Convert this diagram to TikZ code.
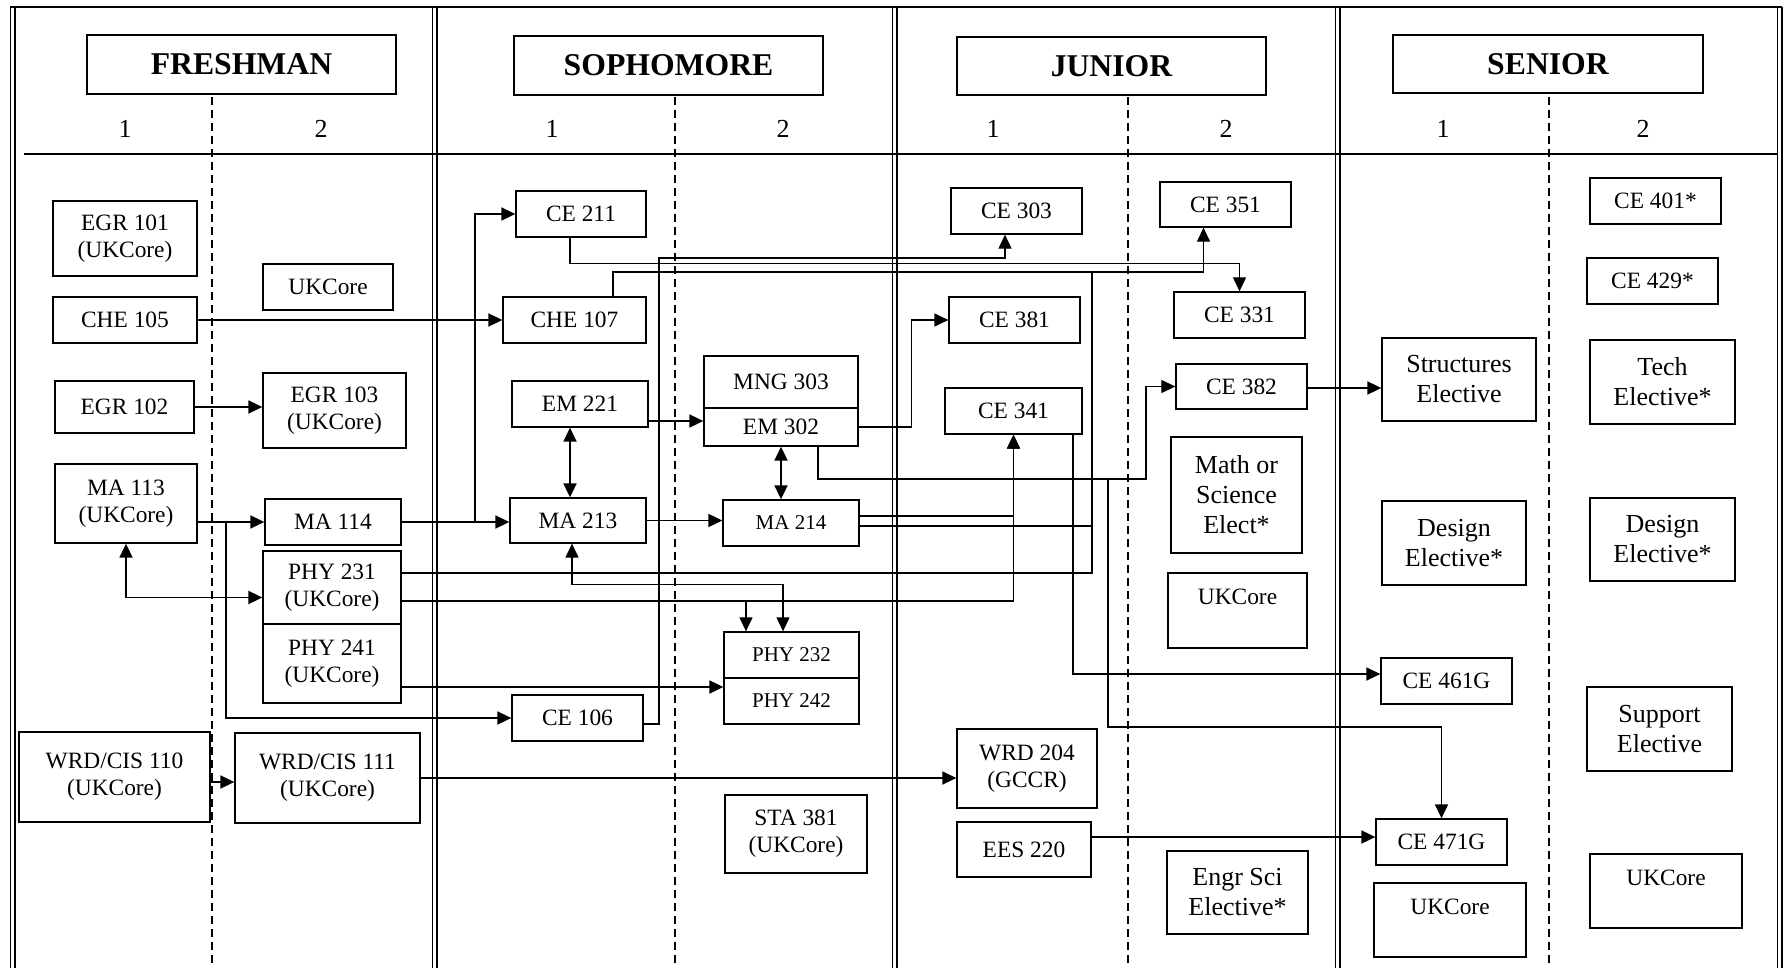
\documentclass[tikz,border=0pt]{standalone}
\usepackage{fontspec}
\setmainfont{Liberation Serif}
\usetikzlibrary{arrows.meta}

\begin{document}
\begin{tikzpicture}[x=1pt,y=-1pt,>={Triangle[length=14pt,width=13pt]},
    course/.style={draw,line width=1.3pt,inner sep=0pt,align=center,font=\fontsize{23.4}{27}\selectfont},
    small/.style={course,font=\fontsize{21}{25}\selectfont},
    elect/.style={course,font=\fontsize{26}{30}\selectfont},
    year/.style={draw,line width=1.3pt,inner sep=0pt,font=\fontsize{31.7}{36}\selectfont\bfseries},
    semlabel/.style={font=\fontsize{26}{30}\selectfont},
    semdash/.style={line width=1.2pt,dash pattern=on 8pt off 5pt},
    divider/.style={double,double distance=3.6pt,line width=1.2pt},
    conn/.style={line width=1.8pt},
    wire/.style={line width=1.2pt}]
  \useasboundingbox (0,0) rectangle (1786,968);
  \foreach \xd in {12.5,434.5,894.5,1337.5,1779.5}
    \draw[divider] (\xd,7) -- (\xd,968);
  \draw[line width=2pt] (10,7) -- (1782,7);
  \draw[line width=1.5pt] (24,154) -- (1777,154);
  \foreach \xd in {212,675,1128,1549}
    \draw[semdash] (\xd,97) -- (\xd,968);
  \node[year,minimum width=309pt,minimum height=59pt] (fresh) at (241.5,64.5) {FRESHMAN};
  \node[year,minimum width=309pt,minimum height=59pt] (soph) at (668.5,65.5) {SOPHOMORE};
  \node[year,minimum width=309pt,minimum height=58pt] (junior) at (1111.5,66) {JUNIOR};
  \node[year,minimum width=310pt,minimum height=58pt] (senior) at (1548,64) {SENIOR};
  \foreach \xs/\ns in {125/1,321/2,552/1,783/2,993/1,1226/2,1443/1,1643/2}
    \node[semlabel] (s\xs) at (\xs,129) {\ns};
  % freshman
  \node[course,minimum width=144pt,minimum height=75pt] (egr101) at (125,238.5) {EGR 101\\(UKCore)};
  \node[course,minimum width=130pt,minimum height=46pt] (ukcoreA) at (328,287) {UKCore};
  \node[course,minimum width=144pt,minimum height=46pt] (che105) at (125,320) {CHE 105};
  \node[course,minimum width=139pt,minimum height=52pt] (egr102) at (124.5,407) {EGR 102};
  \node[course,minimum width=143pt,minimum height=75pt] (egr103) at (334.5,410.5) {EGR 103\\(UKCore)};
  \node[course,minimum width=142pt,minimum height=79pt] (ma113) at (126,503.5) {MA 113\\(UKCore)};
  \node[course,minimum width=136pt,minimum height=46pt] (ma114) at (333,522) {MA 114};
  \node[course,minimum width=138pt,minimum height=73pt] (phy231) at (332,587.5) {PHY 231\\(UKCore)};
  \node[course,minimum width=138pt,minimum height=79pt] (phy241) at (332,663.5) {PHY 241\\(UKCore)};
  \node[course,minimum width=191pt,minimum height=90pt] (wrd110) at (114.5,777) {WRD/CIS 110\\(UKCore)};
  \node[course,minimum width=185pt,minimum height=90pt] (wrd111) at (327.5,778) {WRD/CIS 111\\(UKCore)};
  % sophomore
  \node[course,minimum width=130pt,minimum height=46pt] (ce211) at (581,214) {CE 211};
  \node[course,minimum width=143pt,minimum height=46pt] (che107) at (574.5,320) {CHE 107};
  \node[course,minimum width=136pt,minimum height=46pt] (em221) at (580,404) {EM 221};
  \node[course,minimum width=154pt,minimum height=52pt] (mng303) at (781,382) {MNG 303};
  \node[course,minimum width=154pt,minimum height=38pt] (em302) at (781,427) {EM 302};
  \node[course,minimum width=136pt,minimum height=45pt] (ma213) at (578,520.5) {MA 213};
  \node[small,minimum width=136pt,minimum height=46pt] (ma214) at (791,523) {MA 214};
  \node[small,minimum width=135pt,minimum height=46pt] (phy232) at (791.5,655) {PHY 232};
  \node[small,minimum width=135pt,minimum height=46pt] (phy242) at (791.5,701) {PHY 242};
  \node[course,minimum width=131pt,minimum height=46pt] (ce106) at (577.5,718) {CE 106};
  \node[course,minimum width=142pt,minimum height=78pt] (sta381) at (796,834) {STA 381\\(UKCore)};
  % junior
  \node[course,minimum width=131pt,minimum height=46pt] (ce303) at (1016.5,211) {CE 303};
  \node[course,minimum width=131pt,minimum height=45pt] (ce351) at (1225.5,204.5) {CE 351};
  \node[course,minimum width=131pt,minimum height=46pt] (ce381) at (1014.5,320) {CE 381};
  \node[course,minimum width=131pt,minimum height=46pt] (ce331) at (1239.5,315) {CE 331};
  \node[course,minimum width=137pt,minimum height=46pt] (ce341) at (1013.5,411) {CE 341};
  \node[course,minimum width=131pt,minimum height=45pt] (ce382) at (1241.5,386.5) {CE 382};
  \node[elect,minimum width=131pt,minimum height=116pt] (mathsci) at (1236.5,495) {Math or\\Science\\Elect*};
  \node[course,minimum width=139pt,minimum height=75pt] (ukcoreB) at (1237.5,610.5) {UKCore\\\mbox{}};
  \node[course,minimum width=140pt,minimum height=79pt] (wrd204) at (1027,768.5) {WRD 204\\(GCCR)};
  \node[course,minimum width=134pt,minimum height=55pt] (ees220) at (1024,849.5) {EES 220};
  \node[elect,minimum width=141pt,minimum height=83pt] (engrsci) at (1237.5,892.5) {Engr Sci\\Elective*};
  % senior
  \node[course,minimum width=131pt,minimum height=46pt] (ce401) at (1655.5,201) {CE 401*};
  \node[course,minimum width=131pt,minimum height=46pt] (ce429) at (1652.5,281) {CE 429*};
  \node[elect,minimum width=154pt,minimum height=83pt] (structel) at (1459,379.5) {Structures\\Elective};
  \node[elect,minimum width=145pt,minimum height=84pt] (techel) at (1662.5,382) {Tech\\Elective*};
  \node[elect,minimum width=144pt,minimum height=84pt] (designA) at (1454,543) {Design\\Elective*};
  \node[elect,minimum width=145pt,minimum height=83pt] (designB) at (1662.5,539.5) {Design\\Elective*};
  \node[course,minimum width=131pt,minimum height=46pt] (ce461) at (1446.5,681) {CE 461G};
  \node[elect,minimum width=145pt,minimum height=84pt] (supportel) at (1659.5,729) {Support\\Elective};
  \node[course,minimum width=131pt,minimum height=46pt] (ce471) at (1441.5,842) {CE 471G};
  \node[course,minimum width=152pt,minimum height=74pt] (ukcoreC) at (1450,920) {UKCore\\\mbox{}};
  \node[course,minimum width=152pt,minimum height=74pt] (ukcoreD) at (1666,891) {UKCore\\\mbox{}};
  % connectors
  \coordinate (jce351) at (1092,272);
  \draw[conn,->] (che105) -- (che107);
  \draw[conn,->] (egr102.east) -- (egr102.east -| egr103.west);
  \draw[conn,->] (ma113.east |- ma114) -- (ma114.west);
  \draw[conn,->] ([xshift=28pt]ma113.east |- ma114) |- (ce106.west);
  \draw[conn,<->] (ma113.south) |- ([yshift=-10pt]phy231.west);
  \draw[conn,->] (ma114.east) -- (ma114.east -| ma213.west);
  \draw[conn,->] ([xshift=-34pt]ma213.west |- ma114) |- (ce211.west);
  \draw[conn,<->] ([xshift=-10pt]em221.south) -- ([xshift=-10pt]em221.south |- ma213.north);
  \draw[conn,->] ([yshift=-17pt]em221.east) -- ([yshift=-17pt]em221.east -| em302.west);
  \draw[conn,<->] (em302.south) -- (em302.south |- ma214.north);
  \draw[conn,->] (ma213.east) -- (ma213.east -| ma214.west);
  \draw[wire,->] (em302.east) -| ([xshift=-37pt]ce381.west) -- (ce381.west);
  \draw[wire,->] ([xshift=37pt]em302.south) |- (1146,479) |- (ce382.west);
  \draw[conn,->] ([xshift=37pt]em302.south) |- (1108,479) -- (1108,727) -| (ce471.north);
  \draw[wire,->] ([yshift=7pt]ma214.east) -| (ce341.south);
  \draw[wire] ([yshift=-3pt]ma214.east) -| (jce351);
  \draw[wire] ([yshift=14.5pt]phy231.east) -| (jce351);
  \draw[wire,->] ([xshift=38.5pt]che107.north) |- (jce351) -| ([xshift=-22pt]ce351.south);
  \draw[wire,->] ([yshift=-13.5pt]phy231.east) -| (ce341.south);
  \draw[wire,->] ([yshift=-13.5pt]phy231.east) -| ([xshift=-45.5pt]phy232.north);
  \draw[wire,<->] ([xshift=-6pt]ma213.south) |- ([xshift=-8.5pt,yshift=47pt]phy232.north) -- ([xshift=-8.5pt]phy232.north);
  \draw[conn,->] ([yshift=-23.5pt]phy241.east) -- ([yshift=-23.5pt]phy241.east -| phy242.west);
  \draw[wire,->] ([yshift=-6pt]ce106.east) -| (659,258) -| ([xshift=-11.5pt]ce303.south);
  \draw[wire,->] ([xshift=-11pt]ce211.south) -- ++(0,26) -| (ce331.north);
  \draw[conn,->] ([xshift=59.5pt]ce341.south) |- ([yshift=7pt]ce461.west);
  \draw[conn,->] ([yshift=12.5pt]ees220.east) -- ([yshift=12.5pt]ees220.east -| ce471.west);
  \draw[conn,->] ([yshift=-5pt]wrd110.east) -- ([yshift=-5pt]wrd110.east -| wrd111.west);
  \draw[conn,->] (wrd111.east) -- (wrd111.east -| wrd204.west);
  \draw[conn,->] ([yshift=-1.5pt]ce382.east) -- ([yshift=-1.5pt]ce382.east -| structel.west);
\end{tikzpicture}
\end{document}
